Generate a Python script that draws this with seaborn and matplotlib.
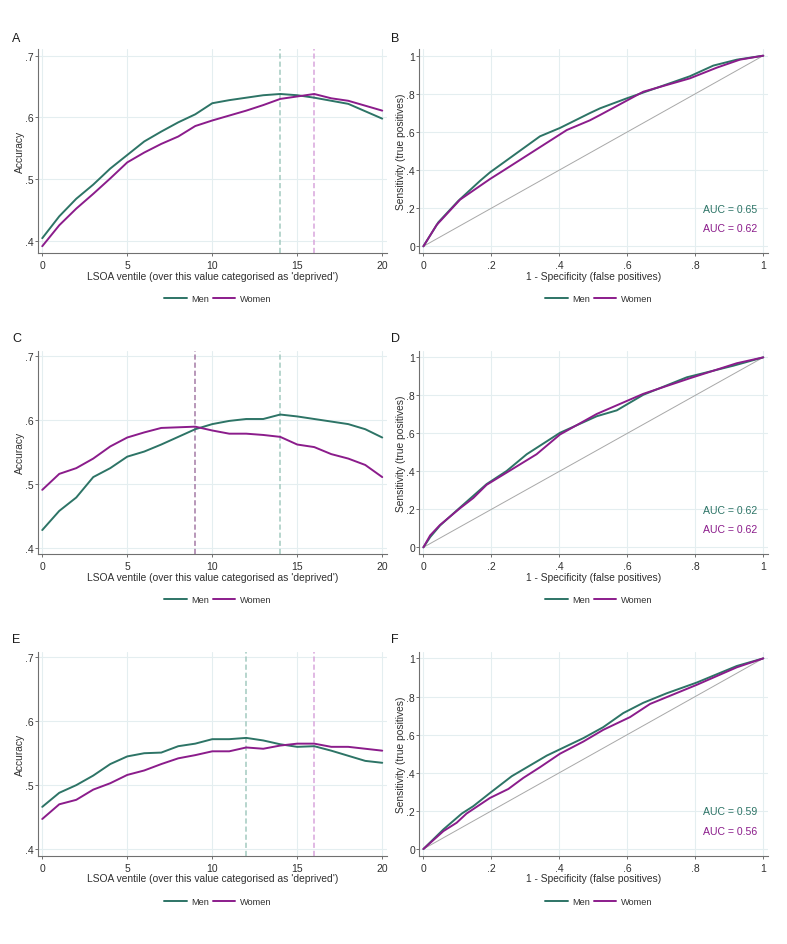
import numpy as np
import pandas as pd
import matplotlib
matplotlib.use("Agg")
import matplotlib.pyplot as plt
from matplotlib.lines import Line2D
import seaborn as sns

# ---------------- data ----------------
ventiles = list(range(21))

acc_A_men = [.404, .4395, .468, .491, .517, .539, .561, .577, .592, .605, .623,
             .628, .632, .636, .638, .636, .632, .627, .622, .610, .598]
acc_A_women = [.391, .425, .452, .476, .501, .527, .543, .557, .569, .586, .595,
               .603, .611, .620, .630, .634, .638, .631, .627, .619, .611]
cut_A = {"Men": 14, "Women": 16}

acc_C_men = [.428, .458, .479, .511, .525, .543, .551, .562, .574, .586, .594,
             .599, .602, .602, .609, .606, .602, .598, .594, .586, .573]
acc_C_women = [.491, .516, .525, .540, .559, .573, .581, .588, .589, .590, .584,
               .579, .579, .577, .574, .562, .558, .547, .540, .530, .511]
cut_C = {"Men": 14, "Women": 9}

acc_E_men = [.466, .488, .500, .515, .533, .545, .550, .551, .561, .565, .572,
             .572, .574, .570, .564, .560, .561, .554, .546, .538, .535]
acc_E_women = [.447, .470, .477, .493, .503, .516, .523, .533, .542, .547, .553,
               .553, .559, .557, .562, .565, .565, .560, .560, .557, .554]
cut_E = {"Men": 12, "Women": 16}

roc_B_men_fpr = [0, .044, .103, .167, .196, .343, .402, .49, .52, .598, .784, .853, .922, 1]
roc_B_men_tpr = [0, .126, .239, .344, .388, .577, .621, .699, .724, .776, .892, .948, .979, 1]
roc_B_women_fpr = [0, .039, .108, .196, .235, .422, .49, .52, .647, .784, .863, .931, 1]
roc_B_women_tpr = [0, .112, .245, .353, .397, .61, .661, .689, .811, .881, .937, .979, 1]
auc_B = {"Men": "0.65", "Women": "0.62"}

roc_D_men_fpr = [0, .02, .049, .103, .186, .245, .304, .402, .51, .569, .647, .775, .912, 1]
roc_D_men_tpr = [0, .054, .115, .202, .333, .402, .49, .603, .69, .721, .803, .895, .956, 1]
roc_D_women_fpr = [0, .02, .049, .108, .147, .186, .333, .402, .51, .647, .784, .922, 1]
roc_D_women_tpr = [0, .063, .118, .206, .26, .329, .49, .594, .702, .808, .89, .969, 1]
auc_D = {"Men": "0.62", "Women": "0.62"}

roc_F_men_fpr = [0, .059, .113, .147, .196, .26, .363, .471, .529, .588, .647, .716, .804, .922, 1]
roc_F_men_tpr = [0, .103, .186, .225, .294, .382, .49, .582, .639, .713, .767, .817, .873, .96, 1]
roc_F_women_fpr = [0, .059, .098, .127, .196, .25, .294, .343, .402, .471, .529, .608, .667, .804, .922, 1]
roc_F_women_tpr = [0, .094, .138, .186, .268, .315, .373, .429, .5, .564, .625, .692, .761, .861, .953, 1]
auc_F = {"Men": "0.59", "Women": "0.56"}

acc_ticks = [.4, .5, .6, .7]
acc_ticklabels = [".4", ".5", ".6", ".7"]
vent_ticks = [0, 5, 10, 15, 20]
roc_ticks = [0, .2, .4, .6, .8, 1]
roc_ticklabels = ["0", ".2", ".4", ".6", ".8", "1"]

# ---------------- style ----------------
sns.set_theme(style="white")
plt.rcParams["font.family"] = ["Liberation Sans", "DejaVu Sans"]

MEN = "#2d7466"
WOMEN = "#8b1c8b"
palette = {"Men": MEN, "Women": WOMEN}
dash_cols = {"A": {"Men": "#a3cac0", "Women": "#d9a6dc"},
             "C": {"Men": "#a3cac0", "Women": "#a47aa6"},
             "E": {"Men": "#a3cac0", "Women": "#d9a6dc"}}
GRID = "#e4eef0"
SPINE = "#707070"
TXT = "#303030"

fig = plt.figure(figsize=(7.87, 9.45), dpi=100)
W, H = 787.0, 945.0


def add_ax(left, right, top, bottom):
    return fig.add_axes([left / W, 1 - bottom / H, (right - left) / W, (bottom - top) / H])


def style_axes(ax):
    for s in ["top", "right"]:
        ax.spines[s].set_visible(False)
    for s in ["left", "bottom"]:
        ax.spines[s].set_color(SPINE)
        ax.spines[s].set_linewidth(0.8)
    ax.grid(True, color=GRID, linewidth=0.8)
    ax.set_axisbelow(True)
    ax.tick_params(axis="both", which="major", length=2.0, width=0.7, color=SPINE,
                   labelsize=7.5, labelcolor=TXT)
    ax.tick_params(axis="x", bottom=True, pad=3.2)
    ax.tick_params(axis="y", left=True, pad=1.1)


def add_legend(ax):
    handles = [Line2D([0], [0], color=MEN, lw=1.4), Line2D([0], [0], color=WOMEN, lw=1.4)]
    ax.legend(handles, ["Men", "Women"], loc="center", bbox_to_anchor=(0.515, -0.225),
              ncol=2, frameon=False, fontsize=6.6, handlelength=2.5, handletextpad=0.45,
              columnspacing=0.35, labelcolor=TXT)


def acc_panel(ax, men, women, cuts, key, ylim):
    df = pd.DataFrame({"ventile": ventiles * 2, "acc": men + women,
                       "Sex": ["Men"] * len(men) + ["Women"] * len(women)})
    sns.lineplot(data=df, x="ventile", y="acc", hue="Sex", palette=palette,
                 estimator=None, sort=False, linewidth=1.4, legend=False, ax=ax)
    for sex, c in cuts.items():
        ax.axvline(c, color=dash_cols[key][sex], lw=1.1, dashes=(3.4, 1.9), zorder=1.5)
    style_axes(ax)
    ax.set_xlim(-0.25, 20.28)
    ax.set_ylim(*ylim)
    ax.set_xticks(vent_ticks)
    ax.set_xticklabels([str(v) for v in vent_ticks])
    ax.set_yticks(acc_ticks)
    ax.set_yticklabels(acc_ticklabels)
    ax.set_xlabel("LSOA ventile (over this value categorised as 'deprived')", fontsize=7.4,
                  color=TXT, labelpad=0.3)
    ax.set_ylabel("Accuracy", fontsize=7.4, color=TXT, labelpad=0.3)
    add_legend(ax)


def roc_panel(ax, mf, mt, wf, wt, aucs):
    df = pd.DataFrame({"fpr": mf + wf, "tpr": mt + wt,
                       "Sex": ["Men"] * len(mf) + ["Women"] * len(wf)})
    ax.plot([0, 1], [0, 1], color="#a8a8a8", lw=0.7, zorder=1.5)
    sns.lineplot(data=df, x="fpr", y="tpr", hue="Sex", palette=palette,
                 estimator=None, sort=False, linewidth=1.4, legend=False, ax=ax)
    style_axes(ax)
    ax.set_xlim(-0.012, 1.013)
    ax.set_ylim(-0.035, 1.035)
    ax.set_xticks(roc_ticks)
    ax.set_xticklabels(roc_ticklabels)
    ax.set_yticks(roc_ticks)
    ax.set_yticklabels(roc_ticklabels)
    ax.set_xlabel("1 - Specificity (false positives)", fontsize=7.4, color=TXT, labelpad=0.3)
    ax.set_ylabel("Sensitivity (true positives)", fontsize=7.4, color=TXT, labelpad=0.3)
    ax.text(0.822, 0.197, "AUC = " + aucs["Men"], color=MEN, fontsize=7.6,
            ha="left", va="center")
    ax.text(0.822, 0.097, "AUC = " + aucs["Women"], color=WOMEN, fontsize=7.6,
            ha="left", va="center")
    add_legend(ax)


LX0, LX1 = 38.0, 387.0
RX0, RX1 = 419.3, 767.7
rows = [(50.0, 254.0), (351.7, 555.0), (652.7, 856.7)]

axA = add_ax(LX0, LX1, *rows[0])
axB = add_ax(RX0, RX1, *rows[0])
axC = add_ax(LX0, LX1, *rows[1])
axD = add_ax(RX0, RX1, *rows[1])
axE = add_ax(LX0, LX1, *rows[2])
axF = add_ax(RX0, RX1, *rows[2])

acc_panel(axA, acc_A_men, acc_A_women, cut_A, "A", (0.380, 0.711))
acc_panel(axC, acc_C_men, acc_C_women, cut_C, "C", (0.3905, 0.709))
acc_panel(axE, acc_E_men, acc_E_women, cut_E, "E", (0.3895, 0.709))
roc_panel(axB, roc_B_men_fpr, roc_B_men_tpr, roc_B_women_fpr, roc_B_women_tpr, auc_B)
roc_panel(axD, roc_D_men_fpr, roc_D_men_tpr, roc_D_women_fpr, roc_D_women_tpr, auc_D)
roc_panel(axF, roc_F_men_fpr, roc_F_men_tpr, roc_F_women_fpr, roc_F_women_tpr, auc_F)

letters = [("A", 12, 39), ("B", 391.5, 39), ("C", 12, 338.5),
           ("D", 391.5, 338.5), ("E", 12, 640), ("F", 391.5, 640)]
for t, x, y in letters:
    fig.text(x / W, 1 - y / H, t, fontsize=9, color="#1a1a1a", ha="left", va="center")

fig.savefig("out.png", dpi=100, facecolor="white")
